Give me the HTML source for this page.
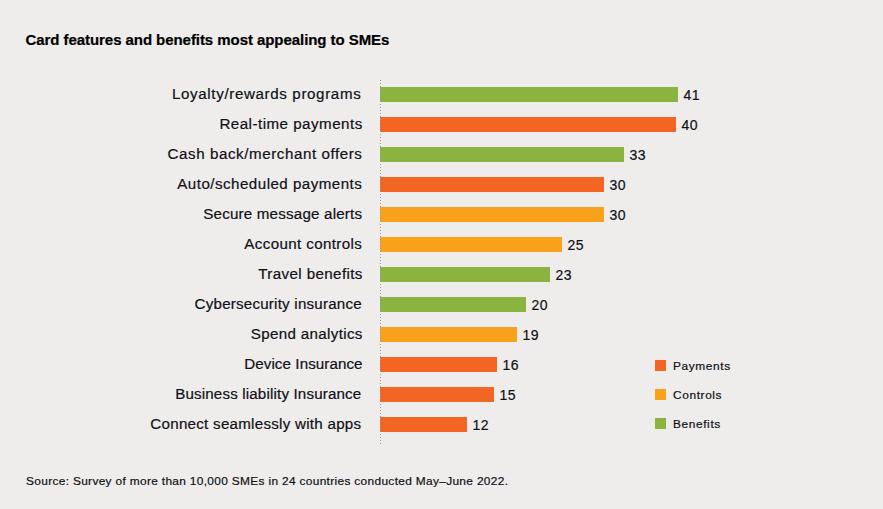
<!DOCTYPE html>
<html><head><meta charset="utf-8"><style>
html,body{margin:0;padding:0}
body{width:883px;height:509px;background:#eeedeb;position:relative;overflow:hidden;font-family:"Liberation Sans",sans-serif;color:#111118;-webkit-text-stroke:0.2px #111118}
.title{position:absolute;left:25.5px;top:30px;font-size:15px;font-weight:bold;line-height:20px;white-space:nowrap;letter-spacing:-0.06px;color:#000;-webkit-text-stroke:0.2px #000}
.lbl{position:absolute;font-size:14px;line-height:20px;white-space:nowrap;transform:scaleX(1.08);transform-origin:right center}
.bar{position:absolute;left:380px;height:15px}
.val{position:absolute;font-size:14px;line-height:20px;white-space:nowrap;letter-spacing:0.5px}
.axis{position:absolute;left:380px;top:80px;width:1px;height:365px;background:repeating-linear-gradient(to bottom,#9a9a9a 0,#9a9a9a 1px,transparent 1px,transparent 3px)}
.leg{position:absolute;left:655px;width:11px;height:11px}
.legt{position:absolute;left:672.6px;font-size:11px;line-height:14px;white-space:nowrap;letter-spacing:0.57px;transform:scaleX(1.08);transform-origin:left center}
.src{position:absolute;left:25.8px;top:474px;font-size:11px;line-height:14px;white-space:nowrap;letter-spacing:0.308px;transform:scaleX(1.08);transform-origin:left center}
</style></head><body>
<div class="title">Card features and benefits most appealing to SMEs</div>
<div class="lbl" style="top:84px;right:521.18px;letter-spacing:0.595px">Loyalty/rewards programs</div>
<div class="bar" style="top:87px;width:298px;background:#8ab43f"></div>
<div class="val" style="top:85px;left:683.5px">41</div>
<div class="lbl" style="top:114px;right:520.41px;letter-spacing:0.457px">Real-time payments</div>
<div class="bar" style="top:117px;width:296px;background:#f26522"></div>
<div class="val" style="top:115px;left:681.5px">40</div>
<div class="lbl" style="top:144px;right:520.20px;letter-spacing:0.539px">Cash back/merchant offers</div>
<div class="bar" style="top:147px;width:244px;background:#8ab43f"></div>
<div class="val" style="top:145px;left:629.5px">33</div>
<div class="lbl" style="top:174px;right:520.35px;letter-spacing:0.445px">Auto/scheduled payments</div>
<div class="bar" style="top:177px;width:224px;background:#f26522"></div>
<div class="val" style="top:175px;left:609.5px">30</div>
<div class="lbl" style="top:204px;right:520.60px;letter-spacing:0.195px">Secure message alerts</div>
<div class="bar" style="top:207px;width:224px;background:#f9a11b"></div>
<div class="val" style="top:205px;left:609.5px">30</div>
<div class="lbl" style="top:234px;right:520.38px;letter-spacing:0.359px">Account controls</div>
<div class="bar" style="top:237px;width:182px;background:#f9a11b"></div>
<div class="val" style="top:235px;left:567.5px">25</div>
<div class="lbl" style="top:264px;right:520.48px;letter-spacing:0.368px">Travel benefits</div>
<div class="bar" style="top:267px;width:170px;background:#8ab43f"></div>
<div class="val" style="top:265px;left:555.5px">23</div>
<div class="lbl" style="top:294px;right:521.46px;letter-spacing:0.203px">Cybersecurity insurance</div>
<div class="bar" style="top:297px;width:146px;background:#8ab43f"></div>
<div class="val" style="top:295px;left:531.5px">20</div>
<div class="lbl" style="top:324px;right:520.56px;letter-spacing:0.326px">Spend analytics</div>
<div class="bar" style="top:327px;width:137px;background:#f9a11b"></div>
<div class="val" style="top:325px;left:522.5px">19</div>
<div class="lbl" style="top:354px;right:520.68px;letter-spacing:0.091px">Device Insurance</div>
<div class="bar" style="top:357px;width:117px;background:#f26522"></div>
<div class="val" style="top:355px;left:502.5px">16</div>
<div class="lbl" style="top:384px;right:521.55px;letter-spacing:0.153px">Business liability Insurance</div>
<div class="bar" style="top:387px;width:114px;background:#f26522"></div>
<div class="val" style="top:385px;left:499.5px">15</div>
<div class="lbl" style="top:414px;right:521.53px;letter-spacing:0.251px">Connect seamlessly with apps</div>
<div class="bar" style="top:417px;width:87px;background:#f26522"></div>
<div class="val" style="top:415px;left:472.5px">12</div>
<div class="axis"></div>
<div class="leg" style="top:360px;background:#f26522"></div><div class="legt" style="top:359px">Payments</div>
<div class="leg" style="top:389px;background:#f9a11b"></div><div class="legt" style="top:388px">Controls</div>
<div class="leg" style="top:418px;background:#8ab43f"></div><div class="legt" style="top:417px">Benefits</div>
<div class="src">Source: Survey of more than 10,000 SMEs in 24 countries conducted May–June 2022.</div>
</body></html>
